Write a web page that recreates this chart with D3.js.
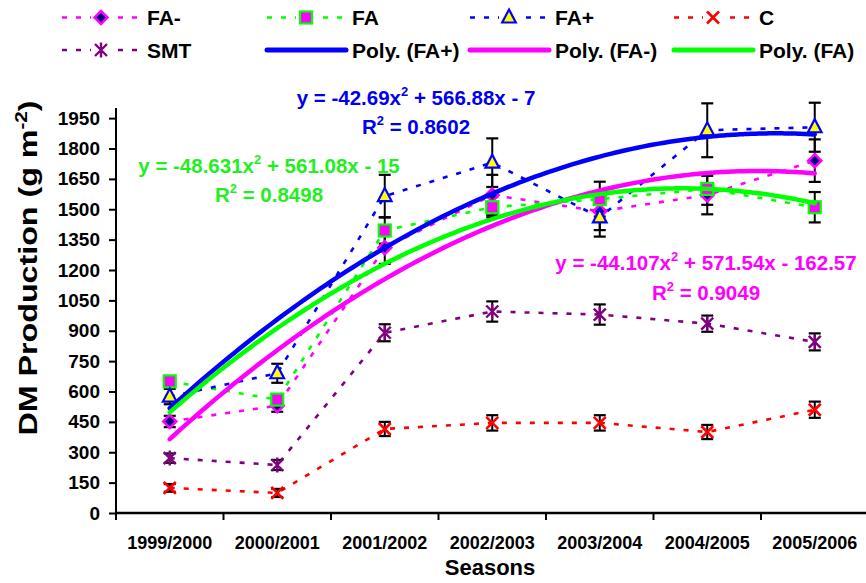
<!DOCTYPE html>
<html>
<head>
<meta charset="utf-8">
<script src="https://cdn.jsdelivr.net/npm/d3@7"></script>
<style>
  html, body { margin: 0; padding: 0; background: #fff; }
  svg { display: block; font-family: "Liberation Sans", Arial, Helvetica, sans-serif; font-weight: bold; }
</style>
</head>
<body>
<svg id="chart" width="866" height="583"></svg>
<script>
// Dry-matter production per season, with standard errors
const seasons = ["1999/2000", "2000/2001", "2001/2002", "2002/2003", "2003/2004", "2004/2005", "2005/2006"];
const yTicks = [0, 150, 300, 450, 600, 750, 900, 1050, 1200, 1350, 1500, 1650, 1800, 1950];

const faMinus    = [452, 530, 1310, 1570, 1490, 1570, 1740];
const faMinusErr = [28, 30, 80, 100, 93, 95, 105];
const fa         = [650, 560, 1395, 1510, 1550, 1600, 1510];
const faErr      = [20, 25, 65, 50, 86, 78, 75];
const faPlus     = [575, 690, 1565, 1730, 1460, 1890, 1905];
const faPlusErr  = [38, 47, 105, 120, 95, 133, 121];
const control    = [124, 99, 415, 445, 445, 400, 510];
const controlErr = [19, 20, 35, 38, 38, 35, 40];
const smt        = [271, 237, 890, 995, 980, 935, 845];
const smtErr     = [23, 25, 42, 50, 50, 40, 42];

// Second-order polynomial trends: [a, b, c] for y = a x^2 + b x + c, x = season index (1..7)
const polyFAPlus  = [-42.69, 566.88, -7];
const polyFAMinus = [-44.107, 571.54, -162.57];
const polyFA      = [-48.631, 561.08, -15];
const r2FAPlus = "0.8602", r2FAMinus = "0.9049", r2FA = "0.8498";

const svg = d3.select("#chart");
const M = { left: 116, right: 868.5, top: 108, bottom: 513 };

const x = d3.scaleBand().domain(seasons).range([M.left, M.right]).padding(0);
const cx = d => x(d) + x.bandwidth() / 2;
const y = d3.scaleLinear().domain([0, 2000]).range([M.bottom, M.top]);
const xPoly = d3.scaleLinear().domain([1, 7]).range([cx(seasons[0]), cx(seasons[6])]);

const series = [
  { name: "FA-", values: faMinus, err: faMinusErr, color: "#FF00FF", marker: "diamond", fill: "#000080" },
  { name: "FA",  values: fa, err: faErr, color: "#00FF00", marker: "square", fill: "#FF00FF" },
  { name: "FA+", values: faPlus, err: faPlusErr, color: "#0000FF", marker: "triangle", fill: "#FFFF00" },
  { name: "C",   values: control, err: controlErr, color: "#FF0000", marker: "cross", fill: "none" },
  { name: "SMT", values: smt, err: smtErr, color: "#800080", marker: "star", fill: "none" }
];

const trends = [
  { name: "Poly. (FA+)", coef: polyFAPlus, color: "#0000FF" },
  { name: "Poly. (FA-)", coef: polyFAMinus, color: "#FF00FF" },
  { name: "Poly. (FA)",  coef: polyFA, color: "#00FF00" }
];

// Marker drawing
function drawMarker(g, type, stroke, fill) {
  if (type === "diamond") {
    g.append("path").attr("d", "M0,-6.5L6.5,0L0,6.5L-6.5,0Z")
      .attr("fill", fill).attr("stroke", stroke).attr("stroke-width", 2.5);
  } else if (type === "square") {
    g.append("rect").attr("x", -6).attr("y", -6).attr("width", 12).attr("height", 12)
      .attr("fill", fill).attr("stroke", stroke).attr("stroke-width", 2.2);
  } else if (type === "triangle") {
    g.append("path").attr("d", "M0,-8L6.8,5L-6.8,5Z")
      .attr("fill", fill).attr("stroke", stroke).attr("stroke-width", 2.2).attr("stroke-linejoin", "miter");
  } else if (type === "cross") {
    g.append("path").attr("d", "M-6,-6L6,6M-6,6L6,-6")
      .attr("stroke", stroke).attr("stroke-width", 2.6);
  } else if (type === "star") {
    g.append("path").attr("d", "M-6,-6L6,6M-6,6L6,-6M0,-7.5L0,7.5")
      .attr("stroke", stroke).attr("stroke-width", 2.4);
  }
}

// Axes
const yAxis = d3.axisLeft(y).tickValues(yTicks).tickSize(7).tickPadding(9).tickFormat(d3.format("d"));
const gy = svg.append("g").attr("transform", `translate(${M.left},0)`).call(yAxis);
gy.select(".domain").attr("stroke", "#000").attr("stroke-width", 2).attr("d", `M0,${M.bottom + 7}V${M.top}`);
gy.selectAll(".tick line").attr("stroke", "#000").attr("stroke-width", 2);
gy.selectAll(".tick text").attr("font-size", 19).attr("font-weight", "bold").attr("fill", "#000")
  .attr("font-family", "Liberation Sans, Arial, sans-serif");

const gx = svg.append("g").attr("transform", `translate(0,${M.bottom})`);
gx.append("line").attr("x1", M.left).attr("x2", 866).attr("stroke", "#000").attr("stroke-width", 2.5);
const boundaries = seasons.map(s => x(s));
gx.selectAll(".xt").data(boundaries).join("line")
  .attr("x1", d => d).attr("x2", d => d).attr("y1", 0).attr("y2", 7)
  .attr("stroke", "#000").attr("stroke-width", 2);
gx.selectAll(".xl").data(seasons).join("text")
  .attr("x", d => cx(d)).attr("y", 36).attr("text-anchor", "middle")
  .attr("font-size", 18).text(d => d);

svg.append("text").attr("x", 490).attr("y", 575).attr("text-anchor", "middle")
  .attr("font-size", 22).text("Seasons");

const yTitle = svg.append("text").attr("transform", "translate(37,268) rotate(-90)")
  .attr("text-anchor", "middle").attr("font-size", 25)
  .attr("textLength", 335).attr("lengthAdjust", "spacingAndGlyphs");
yTitle.append("tspan").text("DM Production (g m");
yTitle.append("tspan").attr("font-size", 16).attr("dy", -10).text("-2");
yTitle.append("tspan").attr("dy", 10).text(")");

// Dashed connecting lines
const line = d3.line().x((d, i) => cx(seasons[i])).y(d => y(d));
series.forEach(s => {
  svg.append("path").datum(s.values).attr("d", line)
    .attr("fill", "none").attr("stroke", s.color).attr("stroke-width", 2.6)
    .attr("stroke-dasharray", "5,9");
});

// Error bars
series.forEach(s => {
  const g = svg.append("g");
  s.values.forEach((v, i) => {
    const px = cx(seasons[i]);
    const top = y(v + s.err[i]), bot = y(v - s.err[i]);
    g.append("line").attr("x1", px).attr("x2", px).attr("y1", top).attr("y2", bot)
      .attr("stroke", "#000").attr("stroke-width", 2);
    [top, bot].forEach(py => g.append("line").attr("x1", px - 6).attr("x2", px + 6)
      .attr("y1", py).attr("y2", py).attr("stroke", "#000").attr("stroke-width", 2.2));
  });
});

// Markers
series.forEach(s => {
  s.values.forEach((v, i) => {
    const g = svg.append("g").attr("transform", `translate(${cx(seasons[i])},${y(v)})`);
    drawMarker(g, s.marker, s.color, s.fill);
  });
});

// Polynomial trend lines
const xs = d3.range(1, 7.001, 0.05);
trends.forEach(t => {
  const [a, b, c] = t.coef;
  const pts = xs.map(v => [xPoly(v), y(a * v * v + b * v + c)]);
  svg.append("path").attr("d", d3.line().curve(d3.curveBasis)(pts))
    .attr("fill", "none").attr("stroke", t.color).attr("stroke-width", 4.5).attr("stroke-linecap", "round");
});

// Trend equations
function fmtEq(coef) {
  const [a, b, c] = coef;
  const sign = v => (v < 0 ? " - " : " + ");
  return [`y = ${a}x`, `${sign(b)}${Math.abs(b)}x${sign(c)}${Math.abs(c)}`];
}
function equation(coef, r2, color, cxp, y1, y2) {
  const [p1, p2] = fmtEq(coef);
  const t = svg.append("text").attr("x", cxp).attr("y", y1).attr("text-anchor", "middle")
    .attr("font-size", 20.5).attr("fill", color);
  t.append("tspan").text(p1);
  t.append("tspan").attr("font-size", 13).attr("dy", -9).text("2");
  t.append("tspan").attr("dy", 9).text(p2);
  const r = svg.append("text").attr("x", cxp).attr("y", y2).attr("text-anchor", "middle")
    .attr("font-size", 20.5).attr("fill", color);
  r.append("tspan").text("R");
  r.append("tspan").attr("font-size", 13).attr("dy", -9).text("2");
  r.append("tspan").attr("dy", 9).text(" = " + r2);
}
equation(polyFAPlus, r2FAPlus, "#0000EE", 416, 105, 134);
equation(polyFA, r2FA, "#22EE22", 269, 173, 202);
equation(polyFAMinus, r2FAMinus, "#FF00FF", 706, 270, 300);

// Legend
const legendCols = [62, 267, 470, 674];
const legendRows = [17.5, 50];
const legendItems = [
  ...series.slice(0, 4).map((s, i) => ({ ...s, col: i, row: 0 })),
  { ...series[4], col: 0, row: 1 },
  ...trends.map((t, i) => ({ ...t, col: i + 1, row: 1, trend: true }))
];
legendItems.forEach(it => {
  const x0 = legendCols[it.col], ly = legendRows[it.row];
  const g = svg.append("g");
  if (it.trend) {
    g.append("line").attr("x1", x0).attr("x2", x0 + 79).attr("y1", ly).attr("y2", ly)
      .attr("stroke", it.color).attr("stroke-width", 5).attr("stroke-linecap", "round");
  } else {
    g.append("line").attr("x1", x0).attr("x2", x0 + 79).attr("y1", ly).attr("y2", ly)
      .attr("stroke", it.color).attr("stroke-width", 2.6).attr("stroke-dasharray", "5,9");
    const m = g.append("g").attr("transform", `translate(${x0 + 39},${ly})`);
    m.append("rect").attr("x", -10).attr("y", -9).attr("width", 20).attr("height", 18).attr("fill", "#fff");
    drawMarker(m, it.marker, it.color, it.fill);
  }
  g.append("text").attr("x", x0 + 85).attr("y", ly + 7.5).attr("font-size", 21).text(it.name);
});
</script>
</body>
</html>
